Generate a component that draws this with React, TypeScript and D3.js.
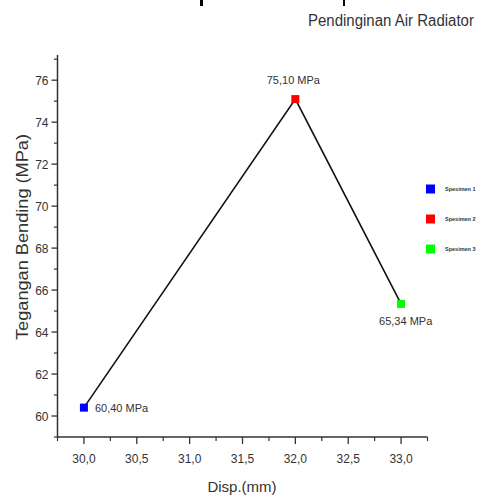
import React, { useEffect, useRef } from 'react';
import * as d3 from 'd3';

const dispValues = [30.0, 32.0, 33.0];
const stressValues = [60.4, 75.1, 65.34];
const pointLabels = ['60,40 MPa', '75,10 MPa', '65,34 MPa'];
const pointColors = ['#0000ff', '#ff0000', '#00ff00'];
const legendLabels = ['Spesimen 1', 'Spesimen 2', 'Spesimen 3'];
const xTicks = [30.0, 30.5, 31.0, 31.5, 32.0, 32.5, 33.0];
const yTicks = [60, 62, 64, 66, 68, 70, 72, 74, 76];

const fmt = (v: number) => v.toFixed(1).replace('.', ',');

export default function App() {
  const svgRef = useRef<SVGSVGElement>(null);

  useEffect(() => {
    const svg = d3.select(svgRef.current);
    svg.selectAll('*').remove();

    const font = 'Liberation Sans, Arial, sans-serif';
    const ink = '#333';

    const x = d3.scaleLinear().domain([29.75, 33.25]).range([57.5, 427.5]);
    const y = d3.scaleLinear().domain([59, 77.2]).range([437, 55]);

    // bits of the figure above, cut off at the top
    svg.append('rect').attr('x', 200).attr('y', 0).attr('width', 3).attr('height', 6).attr('fill', '#000');
    svg.append('rect').attr('x', 343).attr('y', 0).attr('width', 2).attr('height', 6).attr('fill', '#000');

    svg.append('text')
      .attr('transform', 'translate(308,26) scale(1,1.08)')
      .attr('font-family', font).attr('font-size', 15)
      .attr('fill', ink)
      .text('Pendinginan Air Radiator');

    // minor ticks
    const xMinor = d3.range(29.75, 33.26, 0.25).filter(v => !xTicks.some(t => Math.abs(t - v) < 1e-6));
    const yMinor = d3.range(59, 77.1, 1).filter(v => !yTicks.includes(v));

    const gx = svg.append('g').attr('transform', `translate(0,${y.range()[0]})`);
    gx.append('line').attr('x1', x.range()[0]).attr('x2', x.range()[1])
      .attr('stroke', ink).attr('stroke-width', 1.5);
    gx.selectAll('line.maj').data(xTicks).join('line').attr('class', 'maj')
      .attr('x1', d => x(d)).attr('x2', d => x(d)).attr('y1', 0).attr('y2', 7)
      .attr('stroke', ink).attr('stroke-width', 1.3);
    gx.selectAll('line.min').data(xMinor).join('line').attr('class', 'min')
      .attr('x1', d => x(d)).attr('x2', d => x(d)).attr('y1', 0).attr('y2', 4)
      .attr('stroke', ink).attr('stroke-width', 1.2);
    gx.selectAll('text').data(xTicks).join('text')
      .attr('x', d => x(d)).attr('y', 26)
      .attr('text-anchor', 'middle')
      .attr('font-family', font).attr('font-size', 12).attr('fill', ink)
      .text(d => fmt(d));

    const gy = svg.append('g').attr('transform', `translate(${x.range()[0]},0)`);
    gy.append('line').attr('y1', y.range()[0]).attr('y2', y.range()[1])
      .attr('stroke', ink).attr('stroke-width', 1.5);
    gy.selectAll('line.maj').data(yTicks).join('line').attr('class', 'maj')
      .attr('y1', d => y(d)).attr('y2', d => y(d)).attr('x1', 0).attr('x2', -6)
      .attr('stroke', ink).attr('stroke-width', 1.3);
    gy.selectAll('line.min').data(yMinor).join('line').attr('class', 'min')
      .attr('y1', d => y(d)).attr('y2', d => y(d)).attr('x1', 0).attr('x2', -3.5)
      .attr('stroke', ink).attr('stroke-width', 1.2);
    gy.selectAll('text').data(yTicks).join('text')
      .attr('x', -9).attr('y', d => y(d) + 4.5)
      .attr('text-anchor', 'end')
      .attr('font-family', font).attr('font-size', 12).attr('fill', ink)
      .text(d => d);

    svg.append('text')
      .attr('x', 242).attr('y', 492)
      .attr('text-anchor', 'middle')
      .attr('font-family', font).attr('font-size', 15).attr('fill', ink)
      .text('Disp.(mm)');

    svg.append('text')
      .attr('transform', `translate(28,237) rotate(-90)`)
      .attr('text-anchor', 'middle')
      .attr('font-family', font).attr('font-size', 16).attr('fill', ink)
      .attr('textLength', 206).attr('lengthAdjust', 'spacingAndGlyphs')
      .text('Tegangan Bending (MPa)');

    const pts = dispValues.map((d, i) => ({ d, s: stressValues[i], i }));

    const line = d3.line<{ d: number; s: number }>().x(p => x(p.d)).y(p => y(p.s));
    svg.append('path').datum(pts).attr('d', line)
      .attr('fill', 'none').attr('stroke', '#111').attr('stroke-width', 1.6);

    svg.selectAll('rect.pt').data(pts).join('rect').attr('class', 'pt')
      .attr('x', p => x(p.d) - 4).attr('y', p => y(p.s) - 4)
      .attr('width', 8).attr('height', 8)
      .attr('fill', p => pointColors[p.i]);

    const labelPos = [
      { dx: 11, dy: 4, anchor: 'start' },
      { dx: -2, dy: -15, anchor: 'middle' },
      { dx: -22, dy: 21, anchor: 'start' },
    ];
    svg.selectAll('text.pl').data(pts).join('text').attr('class', 'pl')
      .attr('x', p => x(p.d) + labelPos[p.i].dx)
      .attr('y', p => y(p.s) + labelPos[p.i].dy)
      .attr('text-anchor', p => labelPos[p.i].anchor)
      .attr('font-family', font).attr('font-size', 11).attr('fill', ink)
      .text(p => pointLabels[p.i]);

    const legend = svg.append('g').attr('transform', 'translate(426,189)');
    legend.selectAll('rect').data(legendLabels).join('rect')
      .attr('x', 0).attr('y', (_, i) => i * 30 - 4.5)
      .attr('width', 9).attr('height', 9)
      .attr('fill', (_, i) => pointColors[i]);
    legend.selectAll('text').data(legendLabels).join('text')
      .attr('x', 19).attr('y', (_, i) => i * 30 + 2)
      .attr('font-family', font).attr('font-size', 5.5).attr('font-weight', 'bold').attr('fill', ink)
      .text(d => d);
  }, []);

  return (
    <svg ref={svgRef} width={481} height={500}
      style={{ position: 'absolute', left: 0, top: 0, background: '#fff' }} />
  );
}
